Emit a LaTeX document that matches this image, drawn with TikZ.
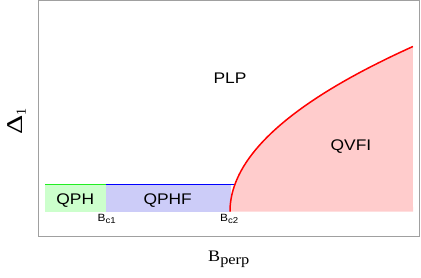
\documentclass[tikz,border=0pt]{standalone}
\usepackage{fontspec}
\setmainfont{Liberation Serif}
\newfontfamily\sansf{Liberation Sans}
\definecolor{qphfill}{HTML}{CCFFCC}
\definecolor{qphffill}{HTML}{CCCCF8}
\definecolor{qvfifill}{HTML}{FFCCCC}
\definecolor{framec}{HTML}{A0A0A0}
\definecolor{lgreen}{HTML}{22EE22}
\newcommand{\hs}[1]{\scalebox{1.13}[1]{#1}}
\begin{document}
\begin{tikzpicture}[x=1pt,y=-1pt,
  phase/.style={font=\sansf\fontsize{15.4}{15.4}\selectfont, inner sep=0pt, anchor=base},
  crit/.style={font=\sansf\fontsize{10.5}{11}\selectfont, inner sep=0pt, anchor=base west},
  bline/.style={line width=1.5pt}]
\useasboundingbox (0,0) rectangle (421,277);
% fills
\fill[qphfill] (45,184.5) rectangle (106,211.5);
\fill[qphffill] (106,184.5) rectangle (231,211.5);
\fill[qvfifill] plot[domain=0:165,samples=80,variable=\t] ({230+(\t/12.2)^2},{211.5-\t}) -- (413,211.5) -- cycle;
% lines
\coordinate (g0) at (45,184.5);
\coordinate (g1) at (106,184.5);
\coordinate (b1) at (233.5,184.5);
\draw[bline,lgreen] (g0) -- (g1);
\draw[bline,blue] (g1) -- (b1);
\draw[bline,red] plot[domain=0:165,samples=120,variable=\t] ({230+(\t/12.2)^2},{211.5-\t});
% frame
\draw[framec,line width=1pt] (38,0.5) rectangle (419,236);
% labels
\node[phase] (plp) at (230,83) {\hs{PLP}};
\node[phase] (qvfi) at (351,150) {\hs{QVFI}};
\node[phase] (qph) at (75.3,204.3) {\hs{QPH}};
\node[phase] (qphf) at (167.7,204.3) {\hs{QPHF}};
\node[crit] (bc1) at (97.5,221.7) {\hs{B\raisebox{-1.6pt}{\fontsize{8.5}{9}\selectfont c1}}};
\node[crit] (bc2) at (220,221.7) {\hs{B\raisebox{-1.6pt}{\fontsize{8.5}{9}\selectfont c2}}};
\node[rotate=90, anchor=base west, inner sep=0pt] (dl) at (22.7,135)
  {\scalebox{1.25}[0.94]{\fontsize{24}{24}\selectfont Δ}\raisebox{-3.3pt}{\fontsize{14}{14}\selectfont 1}};
\node[inner sep=0pt, anchor=base west] (bp) at (208,261)
  {\hs{\fontsize{16}{16}\selectfont B\raisebox{-3pt}{\fontsize{14.5}{14.5}\selectfont perp}}};
\end{tikzpicture}
\end{document}
